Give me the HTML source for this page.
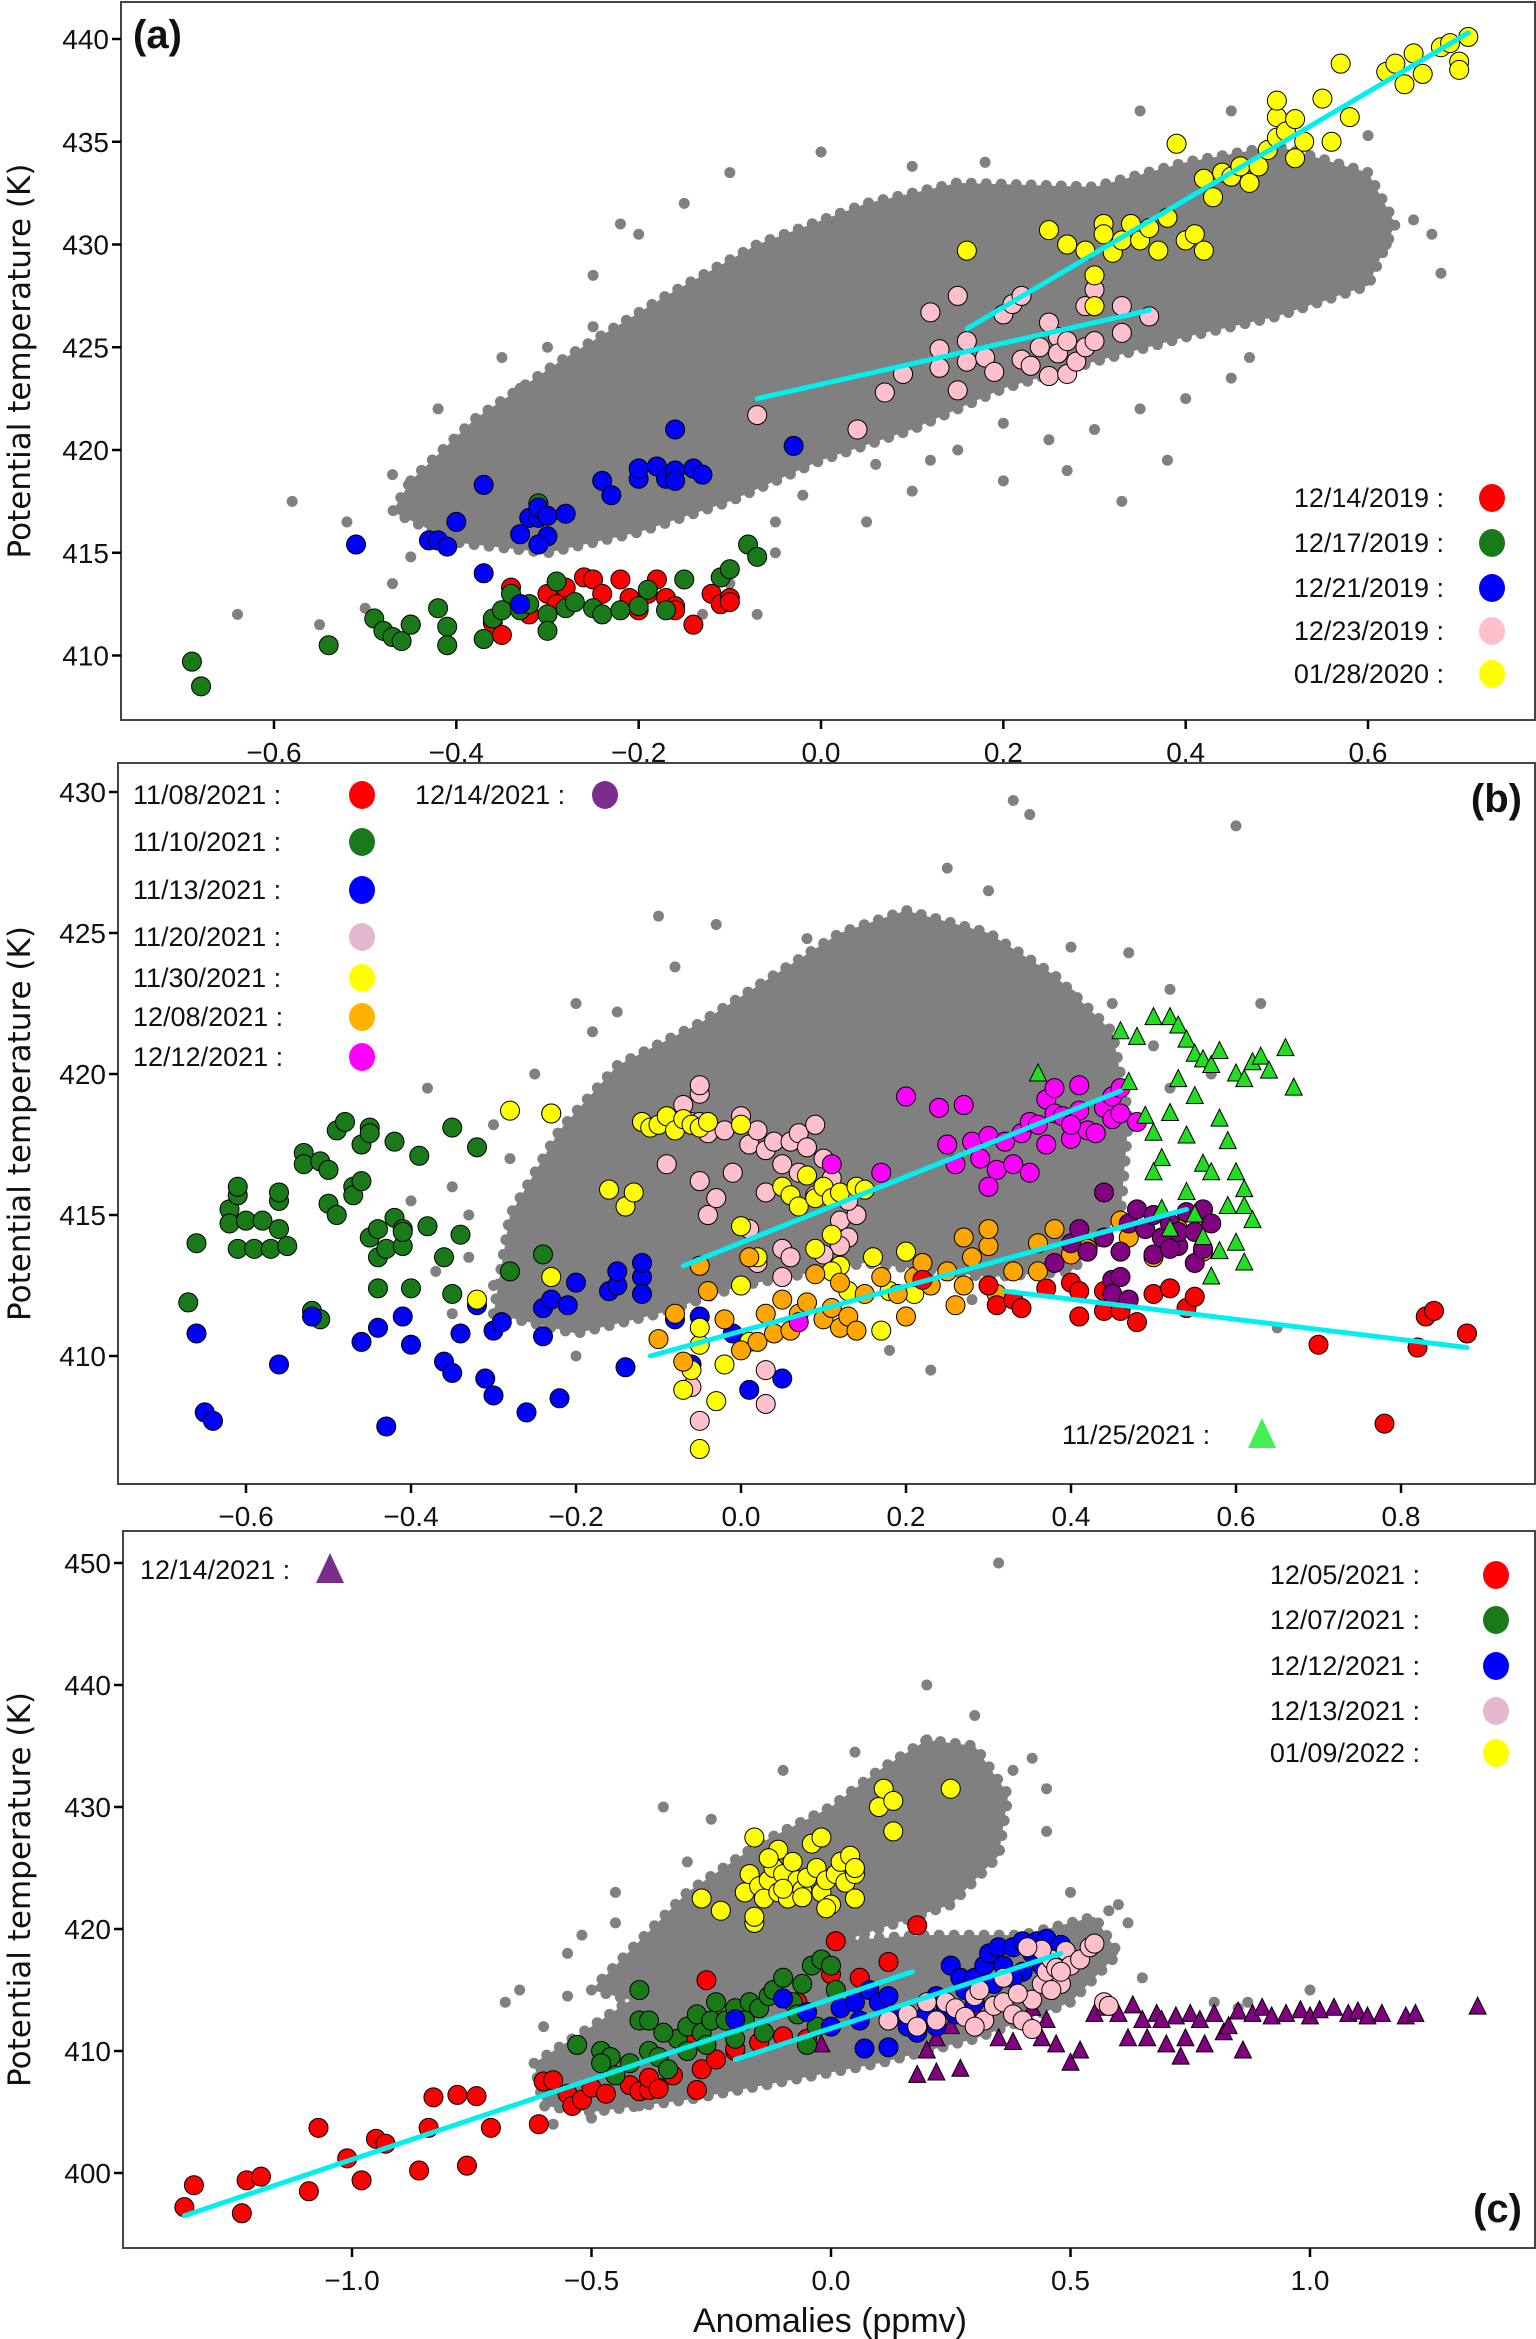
<!DOCTYPE html>
<html><head><meta charset="utf-8"><style>
html,body{margin:0;padding:0;background:#fff}
svg{display:block}
text{font-family:"Liberation Sans Narrow","Liberation Sans",sans-serif;fill:#111}
</style></head><body>
<svg id="fig" width="1536" height="2339" viewBox="0 0 1536 2339" xmlns="http://www.w3.org/2000/svg"></svg>
<script>
// ---------- Panel (a) data ----------
const aTicksX=[-0.6,-0.4,-0.2,0.0,0.2,0.4,0.6];
const aTicksY=[410,415,420,425,430,435,440];
const aCloud=[[-0.45,418.5],[-0.38,421.5],[-0.28,424.5],[-0.17,427.5],[-0.07,430],[0.05,432],[0.15,433],[0.3,432.8],[0.4,434],[0.5,434.8],[0.6,433.5],[0.63,431],[0.6,428],[0.5,426.5],[0.4,425.5],[0.3,424.3],[0.2,423],[0.1,421],[0.0,419.5],[-0.1,417.5],[-0.2,416],[-0.3,415],[-0.4,415.5],[-0.47,417]];
const aGray=[[-0.58,417.5],[-0.64,412],[-0.55,411.5],[-0.5,412.3],[-0.47,413.5],[-0.45,414.8],[-0.42,416],[-0.38,421],[-0.35,424.5],[-0.3,425],[-0.25,428.5],[-0.22,431],[-0.2,430.5],[-0.15,432],[-0.1,433.5],[0.0,434.5],[0.1,433.8],[0.18,434],[0.35,436.5],[0.45,436.5],[0.6,435.3],[0.65,431.2],[0.68,428.6],[0.62,430],[0.55,429],[0.4,422.5],[0.35,422],[0.3,421],[0.27,419],[0.2,418.5],[0.1,418],[0.05,416.5],[-0.05,415],[-0.1,413.5],[-0.13,412],[-0.07,412],[0.47,424.5],[0.55,427.5],[0.25,420.5],[0.15,420],[0.38,419.5],[0.33,417.5],[-0.3,420],[-0.4,420.5],[-0.47,418.8],[-0.52,416.5],[0.06,419.3],[-0.02,417.8],[-0.42,422],[-0.33,423],[-0.25,426],[0.12,419.5],[0.45,423.5],[0.67,430.5],[0.2,421.3],[-0.05,416.5]];
const aRed=[[-0.34,413.3],[-0.33,412.5],[-0.32,412],[-0.3,413],[-0.28,413.3],[-0.26,413.8],[-0.25,413.7],[-0.24,413],[-0.22,413.7],[-0.21,412.8],[-0.2,412.2],[-0.19,413],[-0.18,413.7],[-0.17,412.8],[-0.16,412.4],[-0.14,411.5],[-0.12,413],[-0.11,412.5],[-0.1,412.8],[-0.1,412.6],[-0.36,411.6],[-0.35,411],[-0.45,411.5],[-0.16,412.2],[-0.29,412.5]];
const aGreen=[[-0.69,409.7],[-0.68,408.5],[-0.54,410.5],[-0.49,411.8],[-0.48,411.2],[-0.47,410.9],[-0.46,410.7],[-0.45,411.5],[-0.42,412.3],[-0.41,411.4],[-0.41,410.5],[-0.37,410.8],[-0.36,411.8],[-0.35,412.2],[-0.34,413],[-0.33,412.2],[-0.32,412.5],[-0.3,412],[-0.3,411.2],[-0.29,413.6],[-0.28,412.3],[-0.27,412.6],[-0.25,412.3],[-0.24,412],[-0.22,412.2],[-0.2,412.4],[-0.19,413.2],[-0.17,412.2],[-0.15,413.7],[-0.11,413.8],[-0.1,414.2],[-0.08,415.4],[-0.07,414.8],[-0.31,417.4]];
const aBlue=[[-0.51,415.4],[-0.43,415.6],[-0.42,415.6],[-0.41,415.3],[-0.4,416.5],[-0.37,418.3],[-0.37,414],[-0.33,415.9],[-0.32,416.7],[-0.31,416.7],[-0.31,417.2],[-0.3,416.8],[-0.3,415.8],[-0.31,415.4],[-0.28,416.9],[-0.24,418.5],[-0.23,417.8],[-0.2,418.6],[-0.2,419.1],[-0.18,419.2],[-0.17,418.6],[-0.16,419],[-0.16,418.5],[-0.14,419.1],[-0.13,418.8],[-0.16,421],[-0.03,420.2],[-0.33,412.5]];
const aPink=[[-0.07,421.7],[0.04,421],[0.07,422.8],[0.09,423.7],[0.12,426.7],[0.13,424.9],[0.13,424],[0.15,427.5],[0.16,425.3],[0.16,424.3],[0.15,422.9],[0.18,424.5],[0.19,423.8],[0.2,426.6],[0.21,427.1],[0.22,427.5],[0.22,424.4],[0.24,425],[0.25,423.6],[0.26,425.5],[0.26,424.7],[0.27,425.3],[0.27,423.7],[0.28,424.3],[0.29,427],[0.29,425],[0.3,425.3],[0.3,427.8],[0.33,427],[0.33,425.7],[0.36,426.5],[0.23,424.1],[0.25,426.2]];
const aYellow=[[0.16,429.7],[0.25,430.7],[0.27,430],[0.29,429.7],[0.3,428.5],[0.3,427],[0.31,431],[0.31,430.5],[0.32,429.6],[0.33,430.2],[0.34,431],[0.35,430.2],[0.36,430.8],[0.37,429.7],[0.38,431.3],[0.39,434.9],[0.4,430.2],[0.41,430.5],[0.42,433.2],[0.42,429.7],[0.43,432.3],[0.44,433.5],[0.45,433.3],[0.46,433.8],[0.47,433],[0.48,433.8],[0.49,434.6],[0.5,435.2],[0.5,436.2],[0.5,437],[0.51,435.5],[0.52,434.2],[0.52,436.1],[0.53,435],[0.55,437.1],[0.56,435],[0.57,438.8],[0.58,436.2],[0.62,438.4],[0.63,438.8],[0.65,439.3],[0.66,438.3],[0.68,439.6],[0.69,439.8],[0.7,438.9],[0.71,440.1],[0.7,438.5],[0.64,437.8]];
const aFits=[[[-0.07,422.5],[0.36,426.8]],[[0.16,425.9],[0.71,440.3]]];

// ---------- Panel (b) data ----------
const bTicksX=[-0.6,-0.4,-0.2,0.0,0.2,0.4,0.6,0.8];
const bTicksY=[410,415,420,425,430];
const bCloud=[[-0.3,411.5],[-0.28,415],[-0.22,418],[-0.15,420.3],[-0.05,421.8],[0.04,423.5],[0.12,425],[0.2,425.8],[0.3,425],[0.38,423.5],[0.45,421.5],[0.47,418.5],[0.46,415],[0.4,413],[0.3,412.8],[0.15,413.3],[0.0,412.5],[-0.1,411.5],[-0.2,410.8]];
const bGray=[[0.33,429.7],[0.35,429.2],[0.6,428.8],[0.25,427.3],[0.3,426.5],[0.4,424.5],[0.47,424.3],[0.52,423],[0.57,420],[0.63,422.5],[-0.1,425.6],[-0.03,425.3],[-0.08,423.8],[-0.2,422.5],[-0.15,422.2],[-0.25,420],[-0.38,419.5],[-0.3,418.2],[-0.28,417],[-0.33,415],[-0.35,416],[-0.4,415.5],[-0.27,414],[-0.3,412.5],[-0.35,411.5],[0.23,409.5],[0.18,410.2],[0.28,412],[0.65,411],[-0.2,410],[0.5,421],[0.45,422.5],[0.06,420.5],[0.15,420.5],[0.25,422],[0.35,421.5],[-0.33,413.5],[-0.37,413],[-0.25,411.5],[-0.18,421.5],[0.08,424.8],[0.4,422.8],[0.52,419.5]];
const bGreen=[[-0.67,411.9],[-0.66,414],[-0.62,415.2],[-0.62,414.7],[-0.61,415.7],[-0.61,416],[-0.61,413.8],[-0.6,414.8],[-0.59,413.8],[-0.58,414.8],[-0.57,413.8],[-0.56,415.5],[-0.56,414.5],[-0.56,415.8],[-0.55,413.9],[-0.53,417.2],[-0.53,416.8],[-0.52,411.6],[-0.51,416.9],[-0.51,411.3],[-0.5,416.6],[-0.5,415.4],[-0.49,418],[-0.49,415],[-0.48,418.3],[-0.47,416],[-0.47,415.7],[-0.46,417.5],[-0.46,416.2],[-0.45,418.1],[-0.45,417.9],[-0.45,414.2],[-0.44,414.5],[-0.44,413.5],[-0.44,412.4],[-0.43,413.8],[-0.42,414.9],[-0.42,417.6],[-0.41,414.5],[-0.41,413.9],[-0.41,414.4],[-0.4,412.4],[-0.39,417.1],[-0.38,414.6],[-0.36,413.5],[-0.35,418.1],[-0.34,414.3],[-0.32,417.4],[-0.28,413],[-0.24,413.6],[-0.23,418.6],[-0.35,412.2]];
const bBlue=[[-0.66,410.8],[-0.65,408],[-0.64,407.7],[-0.56,409.7],[-0.52,411.4],[-0.46,410.5],[-0.44,411],[-0.43,407.5],[-0.41,411.4],[-0.4,410.4],[-0.36,409.8],[-0.35,409.4],[-0.34,410.8],[-0.32,411.8],[-0.31,409.2],[-0.3,408.6],[-0.3,410.9],[-0.29,411.2],[-0.26,408],[-0.24,410.7],[-0.24,411.7],[-0.23,412],[-0.22,408.5],[-0.21,411.8],[-0.2,412.6],[-0.16,412.3],[-0.15,412.5],[-0.15,413],[-0.14,409.6],[-0.12,412.8],[-0.12,412.2],[-0.12,413.3],[-0.08,411.3],[-0.05,411.4],[-0.01,410.8],[0.01,408.8],[-0.06,409.7],[0.05,409.2]];
const bPink=[[-0.07,418.9],[-0.06,418.3],[-0.05,419.3],[-0.05,419.6],[-0.04,417.9],[-0.02,418],[0,418.5],[0.01,417.5],[0.02,418],[0.03,417.3],[0.04,417.6],[0.05,416.8],[0.06,417.6],[0.07,417.9],[0.07,416.5],[0.08,417.4],[0.09,418.2],[0.09,415.7],[0.1,417],[0.11,416.3],[0.12,414.8],[0.13,414.2],[0.14,415],[0.12,413.9],[-0.09,416.8],[-0.05,416.2],[-0.04,415],[-0.03,415.6],[0.01,414.5],[0.02,413.3],[0.05,413.8],[-0.06,408.9],[-0.05,407.7],[0.03,409.5],[0.03,408.3],[0.05,412.8],[0.06,413.5],[0.1,413.6],[0.13,415.5],[0.03,415.8],[-0.05,418.3],[-0.01,416.5]];
const bYellow=[[-0.12,418.3],[-0.11,418.1],[-0.1,418.2],[-0.09,418.5],[-0.08,418],[-0.07,418.4],[-0.06,418.2],[-0.05,418.1],[-0.04,418.3],[0,418.2],[-0.28,418.7],[-0.23,418.6],[-0.16,415.9],[-0.14,415.3],[-0.13,415.8],[0.05,416],[0.06,415.7],[0.07,415.3],[0.08,416.4],[0.09,415.6],[0.1,416],[0.11,415.6],[0.12,415.8],[0.14,416],[0.15,415.9],[0.11,414.3],[0.12,413.2],[0.13,412.3],[0.09,413.8],[0.11,413],[0.02,413.5],[0.0,412.5],[0,414.6],[-0.05,410.4],[-0.07,408.8],[-0.06,409.5],[-0.03,408.4],[-0.02,409.7],[-0.05,406.7],[-0.23,412.8],[-0.32,412],[0.18,412.3],[0.17,410.9],[0.16,413.5],[0.2,413.7],[0.21,412.2],[0.01,410.5],[-0.05,411]];
const bOrange=[[-0.1,410.6],[-0.08,411.5],[-0.07,409.8],[-0.04,412.3],[-0.02,411.3],[0,410.2],[0.02,410.5],[0.03,411.5],[0.04,410.8],[0.05,412],[0.06,410.9],[0.07,411.5],[0.08,411.9],[0.09,412.9],[0.1,411.3],[0.11,411.7],[0.12,411],[0.12,412.6],[0.13,411.4],[0.14,410.9],[0.15,412.2],[0.17,412.8],[0.19,412.2],[0.2,411.4],[0.21,412.8],[0.22,413.3],[0.23,412.5],[0.25,413],[0.26,411.8],[0.27,412.5],[0.28,413.5],[0.3,413.9],[0.31,412.2],[0.33,413],[0.36,413],[0.38,414.5],[0.4,413.6],[0.42,413.8],[0.46,414.8],[0.47,414.2],[0.5,413.5],[0.53,414.5],[0.56,414.8],[0.56,413.7],[0.3,414.5],[0.27,414.2],[-0.05,413.2],[0.01,413.5],[0.36,414]];
const bRed=[[0.3,412.5],[0.31,411.8],[0.33,412],[0.34,411.7],[0.37,412.4],[0.4,412.6],[0.41,412.3],[0.41,411.4],[0.44,412.3],[0.44,411.6],[0.46,411.6],[0.48,411.2],[0.5,412.2],[0.52,412.4],[0.54,411.7],[0.55,412.1],[0.7,410.4],[0.78,407.6],[0.82,410.3],[0.83,411.4],[0.84,411.6],[0.88,410.8],[0.22,412.7]];
const bMagenta=[[0.24,418.8],[0.25,417.5],[0.27,418.9],[0.28,417.6],[0.29,417],[0.3,417.8],[0.31,416.6],[0.32,417.6],[0.33,416.8],[0.34,417.9],[0.35,418.3],[0.36,418.2],[0.37,419.1],[0.38,418.6],[0.38,419.5],[0.39,418.5],[0.4,417.7],[0.41,418.7],[0.42,418],[0.43,417.9],[0.44,418.8],[0.45,419.2],[0.46,419.5],[0.45,418.4],[0.46,418.6],[0.41,419.6],[0.3,416],[0.35,416.5],[0.26,416.8],[0.17,416.5],[0.11,416.8],[0.07,411.2],[0.2,419.2],[0.48,418.3],[0.4,418.2],[0.37,417.5]];
const bPurple=[[0.38,413.3],[0.4,414],[0.41,414.5],[0.42,413.7],[0.44,414.2],[0.45,412.7],[0.46,413.7],[0.47,414.7],[0.48,415.2],[0.49,414.5],[0.5,415],[0.5,413.6],[0.51,414.2],[0.52,414.7],[0.53,413.9],[0.53,414.4],[0.54,415.1],[0.55,414.4],[0.56,415.2],[0.57,414.7],[0.45,412.2],[0.46,412.8],[0.55,413.3],[0.52,413.8],[0.44,415.8],[0.47,412],[0.56,413.8]];
const bTri=[[0.36,420],[0.46,421.5],[0.48,421.3],[0.5,422],[0.52,422],[0.53,421.7],[0.54,421.2],[0.55,420.7],[0.56,420.5],[0.57,420.3],[0.58,420.8],[0.6,420],[0.61,419.8],[0.62,420.4],[0.63,420.6],[0.64,420.1],[0.66,420.9],[0.67,419.5],[0.47,419.7],[0.49,418.5],[0.5,417.9],[0.51,417],[0.52,418.6],[0.53,419.8],[0.54,417.8],[0.55,419.2],[0.56,416.8],[0.57,416.5],[0.58,418.4],[0.59,417.6],[0.6,416.5],[0.61,415.3],[0.5,416.5],[0.51,415.2],[0.52,414.5],[0.54,415.8],[0.55,415],[0.56,414.2],[0.58,413.7],[0.6,414],[0.61,413.3],[0.62,414.8],[0.57,412.8],[0.61,415.9],[0.59,415.3]];
const bFits=[[[-0.07,413.2],[0.46,419.4]],[[-0.11,410],[0.54,415.2]],[[0.32,412.3],[0.88,410.3]]];

// ---------- Panel (c) data ----------
const cTicksX=[-1.0,-0.5,0.0,0.5,1.0];
const cTicksLbl=["\u22121.0","\u22120.5","0.0","0.5","1.0"];
const cTicksY=[400,410,420,430,440,450];
const cCloudUp=[[-0.5,415],[-0.4,419],[-0.3,423],[-0.15,427],[0.0,430],[0.1,433],[0.2,435.5],[0.3,435],[0.37,431],[0.35,426],[0.25,422],[0.1,420],[-0.05,418],[-0.2,416],[-0.4,414]];
const cCloudLow=[[-0.62,409],[-0.5,412],[-0.35,416],[-0.15,417.5],[0,419],[0.2,419.5],[0.4,419.5],[0.55,421],[0.6,418],[0.5,414],[0.3,411],[0.1,409],[-0.1,407.5],[-0.3,406],[-0.5,405],[-0.6,405.5]];
const cGray=[[0.35,450],[-0.55,418],[-0.65,415],[-0.68,414],[-0.6,412],[-0.52,419.5],[-0.45,423],[-0.3,425.5],[-0.25,429],[-0.35,430],[-0.1,433],[0.05,434.5],[0.2,440],[0.3,437.5],[0.2,435.5],[0.42,434],[0.45,428],[0.5,423],[0.58,421.5],[0.6,422],[0.8,414],[0.85,413.5],[0.87,414],[1.0,415],[0.65,416],[-0.4,405.5],[-0.5,404.5],[-0.58,404],[-0.2,412],[0.1,425],[0.3,425],[-0.55,414.5],[-0.45,420.5],[0.38,433],[0.45,431.5],[0.62,420.5]];
const cYellow=[[-0.27,422.5],[-0.23,421.5],[-0.16,420.5],[-0.16,421],[-0.18,423],[-0.17,424.5],[-0.15,423.5],[-0.14,422.5],[-0.13,424],[-0.12,425],[-0.11,426.5],[-0.11,423],[-0.1,424.5],[-0.09,422.5],[-0.08,425.5],[-0.07,424],[-0.06,423.2],[-0.05,424.2],[-0.04,427],[-0.03,425],[-0.02,427.5],[-0.02,423],[-0.01,424],[0,422],[0.01,424.5],[0.02,425.5],[0.03,423.8],[0.04,426],[0.05,424.5],[0.05,422.5],[-0.16,427.5],[-0.13,425.8],[-0.1,423.3],[-0.06,422.6],[0.1,430],[0.11,431.5],[0.13,428],[0.13,430.5],[0.25,431.5],[-0.01,421.7],[0.05,425]];
const cRed=[[-1.35,397.2],[-1.33,399],[-1.23,396.7],[-1.22,399.4],[-1.19,399.7],[-1.09,398.5],[-1.07,403.7],[-1.01,401.2],[-0.98,399.4],[-0.95,402.8],[-0.93,402.4],[-0.86,400.2],[-0.84,403.7],[-0.83,406.2],[-0.76,400.6],[-0.78,406.4],[-0.74,406.3],[-0.71,403.7],[-0.61,404],[-0.6,407.5],[-0.58,407.6],[-0.55,406.5],[-0.54,405.5],[-0.52,406],[-0.5,407],[-0.47,406.5],[-0.42,407.2],[-0.4,406.7],[-0.38,406.8],[-0.36,407],[-0.33,408],[-0.28,406.8],[-0.27,408.5],[-0.24,409.3],[-0.2,410],[-0.15,410.7],[-0.1,411.2],[-0.05,411],[-0.3,411],[-0.26,415.8],[0.01,419],[-0.07,414],[0.0,416.3],[0.06,416],[0.12,417.3],[0.18,420.3],[-0.2,410.2],[-0.38,407.8],[-0.36,406.9]];
const cGreen=[[-0.53,410.5],[-0.48,410],[-0.46,409.5],[-0.45,408],[-0.42,409],[-0.4,412.5],[-0.4,415],[-0.38,410],[-0.36,409.5],[-0.34,408.5],[-0.32,411],[-0.3,412],[-0.3,410],[-0.28,413],[-0.27,411.5],[-0.25,412.5],[-0.24,414],[-0.22,412.5],[-0.2,413.5],[-0.18,412.5],[-0.17,414],[-0.15,413.5],[-0.13,414.5],[-0.12,415],[-0.1,416],[-0.08,414],[-0.06,415.5],[-0.04,417],[-0.02,417.5],[0,417],[0.01,415],[-0.03,412],[-0.07,413],[-0.14,411.5],[-0.26,410.5],[-0.2,411],[-0.05,410.5],[-0.35,411.5],[-0.38,412.5],[-0.48,409]];
const cBlue=[[-0.2,412.6],[-0.1,414.3],[-0.05,413.2],[0,412],[0.02,413.5],[0.05,414],[0.06,412.5],[0.08,415],[0.1,414],[0.12,414.5],[0.14,413],[0.16,412],[0.18,411.5],[0.2,413],[0.22,412],[0.24,413.5],[0.25,417],[0.27,416],[0.28,415],[0.3,416],[0.32,417],[0.33,418],[0.35,418.5],[0.36,417],[0.38,418.5],[0.4,419],[0.42,418],[0.43,419],[0.45,419.2],[0.44,417],[0.4,416.5],[0.38,416],[0.34,415.5],[0.26,413],[0.12,410.3],[0.07,410.2],[0.3,414],[0.22,414.5],[0.48,418.7]];
const cPink=[[0.12,412.5],[0.16,413],[0.18,412],[0.2,414],[0.22,412.5],[0.24,414],[0.26,413.5],[0.28,412.8],[0.3,414.5],[0.32,412.5],[0.34,413.7],[0.36,414],[0.38,413],[0.4,412.5],[0.42,414.2],[0.44,415.5],[0.45,416.5],[0.46,417.5],[0.47,416.8],[0.48,415.5],[0.49,418.2],[0.5,417],[0.52,417.5],[0.54,418.5],[0.55,418.8],[0.57,414],[0.58,413.7],[0.44,418.3],[0.41,418.5],[0.36,416],[0.31,415],[0.39,414.7],[0.3,412],[0.42,411.8],[0.46,415],[0.48,416.5]];
const cTri=[[-0.02,410.5],[0.18,408],[0.22,408.2],[0.27,408.5],[0.2,410],[0.22,411],[0.25,412],[0.3,413.5],[0.35,411],[0.38,410.7],[0.44,411],[0.45,412.5],[0.47,410.5],[0.5,409],[0.52,410],[0.55,413],[0.57,413.5],[0.6,413],[0.62,411],[0.65,412.5],[0.66,411],[0.68,413],[0.7,410.5],[0.72,412.8],[0.73,409.5],[0.74,411],[0.75,413],[0.77,412.5],[0.78,410.5],[0.8,413],[0.82,411.5],[0.83,412],[0.85,413.2],[0.86,410],[0.88,413],[0.9,413.5],[0.92,412.8],[0.95,413],[0.98,413.3],[1.0,412.8],[1.02,413.3],[1.05,413.5],[1.08,413],[1.1,413.2],[1.12,412.8],[1.15,413],[1.2,412.8],[1.22,413],[1.35,413.6],[0.42,413.5],[0.63,413.7],[0.69,412.5]];
const cFits=[[[-1.35,396.5],[0.17,416.5]],[[-0.2,409.3],[0.48,418]]];

const NS="http://www.w3.org/2000/svg";
const svg=document.getElementById('fig');
function mk(tag,attrs,parent){const e=document.createElementNS(NS,tag);for(const k in attrs)e.setAttribute(k,attrs[k]);(parent||svg).appendChild(e);return e;}
function txt(s,attrs,parent){const e=mk('text',attrs,parent);e.textContent=s;return e;}
function minus(v,d){const s=v.toFixed(d);return s.replace('-','\u2212');}

function panel(P){
  const g=mk('g',{});
  
  
  const X=v=>P.x0+v*P.kx, Y=v=>P.y0-(v-P.v0)*P.ky;
  const clip='clip-'+P.id;
  const cp=mk('clipPath',{id:clip},g);mk('rect',{x:P.L,y:P.T,width:P.R-P.L,height:P.B-P.T},cp);
  const plot=mk('g',{'clip-path':'url(#'+clip+')'},g);
  
  
  P.clouds.forEach(c=>{
    const p=mk('polygon',{points:c.map(d=>X(d[0])+','+Y(d[1])).join(' '),fill:'#808080',stroke:'#808080','stroke-width':11,'stroke-dasharray':'0 15','stroke-linecap':'round','stroke-linejoin':'round'},plot);
    
    
  });
  P.gray.forEach(d=>{const c=mk('circle',{cx:X(d[0]),cy:Y(d[1]),r:5.5,fill:'#808080'},plot);
    
    });
  P.series.forEach(s=>{
    s.data.forEach(d=>{
      let e;
      if(s.tri){const x=X(d[0]),y=Y(d[1]);e=mk('polygon',{points:`${x},${y-10} ${x-8.5},${y+7} ${x+8.5},${y+7}`,fill:s.color,stroke:'#000','stroke-width':1},plot);}
      else e=mk('circle',{cx:X(d[0]),cy:Y(d[1]),r:9.5,fill:s.color,stroke:'#000','stroke-width':1},plot);
      
      
    });
  });
  P.fits.forEach(f=>{const l=mk('line',{x1:X(f[0][0]),y1:Y(f[0][1]),x2:X(f[1][0]),y2:Y(f[1][1]),stroke:'#00f0f0','stroke-width':5,'stroke-linecap':'round'},plot);
    
    });
  const fr=mk('rect',{x:P.L,y:P.T,width:P.R-P.L,height:P.B-P.T,fill:'none',stroke:'#444','stroke-width':2},g);
  
  
  P.ticksX.forEach((v,i)=>{mk('line',{x1:X(v),x2:X(v),y1:P.B,y2:P.B+9,stroke:'#000','stroke-width':2.5},g);
    const t=txt(P.xl?P.xl[i]:minus(v,1),{x:X(v),y:P.B+42,'font-size':28,'text-anchor':'middle'},g);
    
    });
  P.ticksY.forEach(v=>{mk('line',{x1:P.L-9,x2:P.L,y1:Y(v),y2:Y(v),stroke:'#000','stroke-width':2.5},g);
    const t=txt(String(v),{x:P.L-12,y:Y(v)+10,'font-size':28,'text-anchor':'end'},g);
    
    });
  const yt=txt('Potential temperature  (K)',{x:0,y:0,'font-size':31,'text-anchor':'middle',transform:`translate(30,${(P.T+P.B)/2}) rotate(-90)`,style:'font-family:"DejaVu Sans","Liberation Sans",sans-serif'},g);
  
  
  const pl=txt(P.label,{x:P.lx,y:P.ly,'font-size':40,'font-weight':'bold','text-anchor':P.la||'start',style:'font-family:"Liberation Sans",sans-serif'},g);
  
  
  P.legend.forEach(e=>{
    const lg=mk('g',{},g);
    
    
    txt(e.t,{x:e.tx,y:e.y+9,'font-size':27,'text-anchor':e.anchor||'start'},lg);
    if(e.tri) mk('polygon',{points:`${e.mx},${e.y-17} ${e.mx-14},${e.y+13} ${e.mx+14},${e.y+13}`,fill:e.c},lg);
    else mk('ellipse',{cx:e.mx,cy:e.y,rx:13,ry:14,fill:e.c},lg);
  });
}

panel({id:'a',name:'panel-a',label:'(a)',lx:133,ly:48,L:121,R:1535,T:2,B:720,x0:821,kx:911.7,v0:440,y0:39,ky:20.55,
 ticksX:aTicksX,ticksY:aTicksY,clouds:[aCloud],gray:aGray,fits:aFits,
 series:[{name:'dec14-2019',color:'#ff0000',data:aRed},{name:'dec17-2019',color:'#1a7a1a',data:aGreen},{name:'dec21-2019',color:'#0000ff',data:aBlue},{name:'dec23-2019',color:'#ffc0cb',data:aPink},{name:'jan28-2020',color:'#ffff00',data:aYellow}],
 legend:[{t:'12/14/2019 :',tx:1444,anchor:'end',mx:1492,y:498,c:'#ff0000'},{t:'12/17/2019 :',tx:1444,anchor:'end',mx:1492,y:543,c:'#1a7a1a'},{t:'12/21/2019 :',tx:1444,anchor:'end',mx:1492,y:588,c:'#0000ff'},{t:'12/23/2019 :',tx:1444,anchor:'end',mx:1492,y:631,c:'#ffc0cb'},{t:'01/28/2020 :',tx:1444,anchor:'end',mx:1492,y:674,c:'#ffff00'}]});

panel({id:'b',name:'panel-b',label:'(b)',lx:1522,ly:812,la:'end',L:118,R:1535,T:763,B:1484,x0:741,kx:825,v0:430,y0:792,ky:28.2,
 ticksX:bTicksX,ticksY:bTicksY,clouds:[bCloud],gray:bGray,fits:bFits,
 series:[{name:'nov10-2021',color:'#1a7a1a',data:bGreen},{name:'nov13-2021',color:'#0000ff',data:bBlue},{name:'nov20-2021',color:'#ffc0cb',data:bPink},{name:'nov30-2021',color:'#ffff00',data:bYellow},{name:'dec08-2021',color:'#ffa500',data:bOrange},{name:'nov08-2021',color:'#ff0000',data:bRed},{name:'dec12-2021',color:'#ff00ff',data:bMagenta},{name:'dec14-2021',color:'#800080',data:bPurple},{name:'nov25-2021',color:'#22dd22',data:bTri,tri:true}],
 legend:[{t:'11/08/2021 :',tx:133,mx:362,y:795,c:'#ff0000'},{t:'11/10/2021 :',tx:133,mx:362,y:842,c:'#1a7a1a'},{t:'11/13/2021 :',tx:133,mx:362,y:890,c:'#0000ff'},{t:'11/20/2021 :',tx:133,mx:362,y:937,c:'#e6b8d0'},{t:'11/30/2021 :',tx:133,mx:362,y:978,c:'#ffff00'},{t:'12/08/2021 :',tx:133,mx:362,y:1017,c:'#ffb300'},{t:'12/12/2021 :',tx:133,mx:362,y:1057,c:'#ff00ff'},{t:'12/14/2021 :',tx:415,mx:605,y:795,c:'#7b2d8e'},{t:'11/25/2021 :',tx:1062,mx:1262,y:1435,c:'#44ee55',tri:true}]});

panel({id:'c',name:'panel-c',label:'(c)',lx:1522,ly:2222,la:'end',L:123,R:1535,T:1531,B:2248,x0:831,kx:479,v0:450,y0:1563,ky:12.2,
 ticksX:cTicksX,xl:cTicksLbl,ticksY:cTicksY,clouds:[cCloudUp,cCloudLow],gray:cGray,fits:cFits,
 series:[{name:'jan09-2022',color:'#ffff00',data:cYellow},{name:'dec14-2021',color:'#800080',data:cTri,tri:true},{name:'dec05-2021',color:'#ff0000',data:cRed},{name:'dec07-2021',color:'#1a7a1a',data:cGreen},{name:'dec12-2021',color:'#0000ff',data:cBlue},{name:'dec13-2021',color:'#ffc0cb',data:cPink}],
 legend:[{t:'12/14/2021 :',tx:140,mx:330,y:1570,c:'#7b2d8e',tri:true},{t:'12/05/2021 :',tx:1420,anchor:'end',mx:1496,y:1575,c:'#ff0000'},{t:'12/07/2021 :',tx:1420,anchor:'end',mx:1496,y:1620,c:'#1a7a1a'},{t:'12/12/2021 :',tx:1420,anchor:'end',mx:1496,y:1666,c:'#0000ff'},{t:'12/13/2021 :',tx:1420,anchor:'end',mx:1496,y:1711,c:'#e6b8d0'},{t:'01/09/2022 :',tx:1420,anchor:'end',mx:1496,y:1753,c:'#ffff00'}]});

const xt=txt('Anomalies (ppmv)',{x:830,y:2332,'font-size':34,'text-anchor':'middle'});


</script>
</body></html>
